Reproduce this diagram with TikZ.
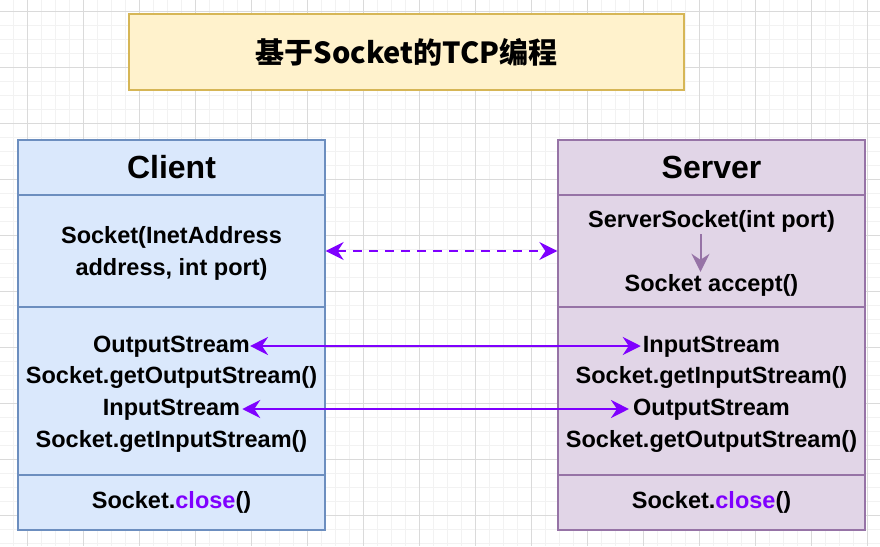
\documentclass[tikz,border=0pt]{standalone}
\usepackage{fontspec}
\setmainfont{Liberation Sans}
\newfontfamily\cjk{Noto Sans CJK SC}
\usepackage{xcolor}
\usetikzlibrary{arrows.meta}
\definecolor{titlefill}{HTML}{FFF2CC}
\definecolor{titledraw}{HTML}{D6B656}
\definecolor{clientfill}{HTML}{DAE8FC}
\definecolor{clientdraw}{HTML}{6C8EBF}
\definecolor{serverfill}{HTML}{E1D5E7}
\definecolor{serverdraw}{HTML}{9673A6}
\definecolor{linkpurple}{HTML}{7F00FF}
\definecolor{gridminor}{HTML}{F2F2F2}
\definecolor{gridmajor}{HTML}{DADADA}

\begin{document}
\begin{tikzpicture}[x=1pt, y=-1pt, >={Stealth[length=18pt, width=18pt, inset=6pt]},
    cpart/.style={draw=clientdraw, fill=clientfill, line width=1.3pt, minimum width=307pt},
    spart/.style={draw=serverdraw, fill=serverfill, line width=1.3pt, minimum width=307pt},
    head/.style={font=\fontsize{32}{36}\selectfont\bfseries},
    txt/.style={font=\fontsize{23.5}{26}\selectfont\bfseries, inner sep=2pt, text height=17pt, text depth=5pt},
    link/.style={linkpurple, line width=2.5pt, <->}]
      \useasboundingbox (0,0) rectangle (880,546);
      \fill[white] (0,0) rectangle (880,546);
      \foreach \x in {13,27,...,880} \draw[gridminor, line width=0.8pt] (\x,0) -- (\x,546);
      \foreach \y in {11.5,25.5,...,546} \draw[gridminor, line width=0.8pt] (0,\y) -- (880,\y);
      \foreach \x in {27,83,...,880} \draw[gridmajor, line width=0.8pt] (\x,0) -- (\x,546);
      \foreach \y in {11.5,67.5,...,546} \draw[gridmajor, line width=0.8pt] (0,\y) -- (880,\y);
      \node[draw=titledraw, fill=titlefill, line width=1.3pt, minimum width=555pt, minimum height=76pt,
        font=\cjk\fontsize{29}{33}\selectfont\bfseries] (title) at (406.5,52) {基于Socket的TCP编程};
      % client
      \node[cpart, minimum height=55pt, head] (cHead) at (171.5,167.5) {Client};
      \node[cpart, minimum height=112pt] (cCtor) at (171.5,251) {};
      \node[cpart, minimum height=168pt] (cIO) at (171.5,391) {};
      \node[cpart, minimum height=55pt, txt] (cClose) at (171.5,502.5) {Socket.\textcolor{linkpurple}{close}()};
      \node[txt] (cSock) at (171.5,237) {Socket(InetAddress};
      \node[txt] (cAddr) at (171.5,269) {address, int port)};
      \node[txt, inner sep=0pt] (cOut) at (171.5,346) {OutputStream};
      \node[txt] (cGetOut) at (171.5,377) {Socket.getOutputStream()};
      \node[txt] (cIn) at (171.5,409) {InputStream};
      \node[txt] (cGetIn) at (171.5,441) {Socket.getInputStream()};
      % server
      \node[spart, minimum height=55pt, head] (sHead) at (711.5,167.5) {Server};
      \node[spart, minimum height=112pt] (sCtor) at (711.5,251) {};
      \node[spart, minimum height=168pt] (sIO) at (711.5,391) {};
      \node[spart, minimum height=55pt, txt] (sClose) at (711.5,502.5) {Socket.\textcolor{linkpurple}{close}()};
      \node[txt] (sServ) at (711.5,221) {ServerSocket(int port)};
      \node[txt] (sAcc) at (711.5,285) {Socket accept()};
      \node[txt] (sIn) at (711.5,346) {InputStream};
      \node[txt] (sGetIn) at (711.5,377) {Socket.getInputStream()};
      \node[txt, inner sep=4pt] (sOut) at (711.5,409) {OutputStream};
      \node[txt] (sGetOut) at (711.5,441) {Socket.getOutputStream()};
      % connectors
      \draw[link, dash pattern=on 9pt off 7pt] (cCtor.east) -- (sCtor.west);
      \draw[link] (cOut.east) -- (sIn.west);
      \draw[link] (cIn.east) -- (sOut.west);
      \draw[serverdraw, line width=2pt, ->] ([xshift=-11pt]sServ.south) -- ([xshift=-11pt]sAcc.north);
    \end{tikzpicture}
\end{document}
